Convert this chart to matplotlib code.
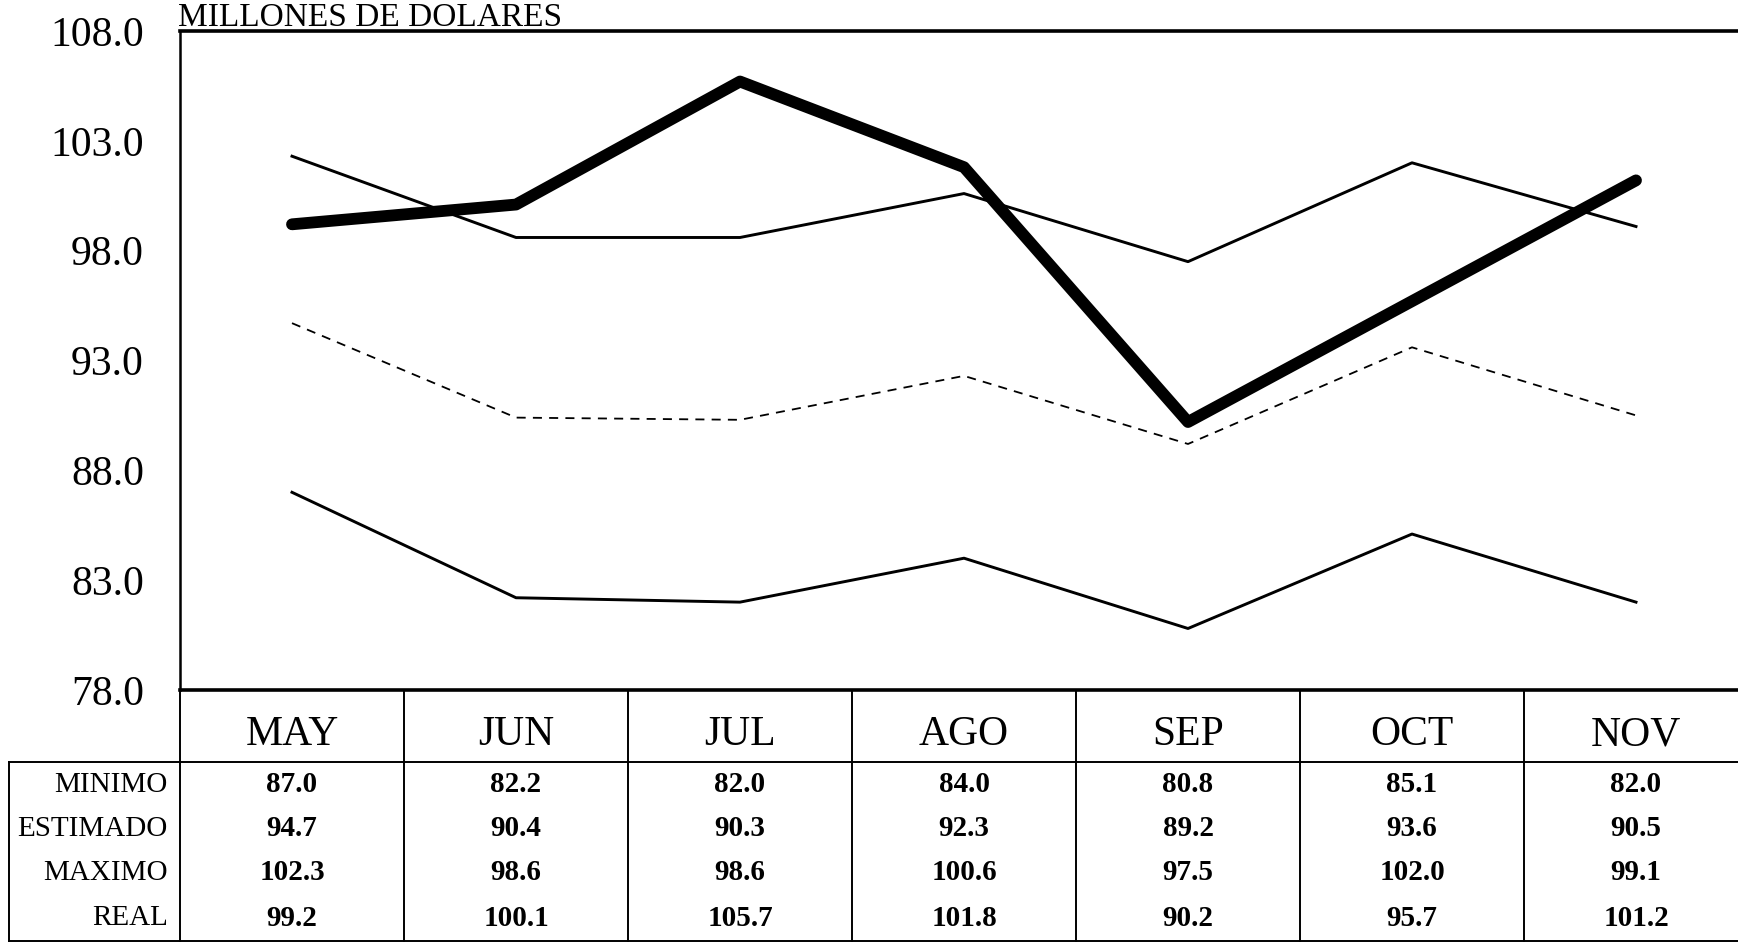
import matplotlib.pyplot as plt
from matplotlib import transforms
from matplotlib.lines import Line2D

meses = ['MAY', 'JUN', 'JUL', 'AGO', 'SEP', 'OCT', 'NOV']
minimo = [87.0, 82.2, 82.0, 84.0, 80.8, 85.1, 82.0]
estimado = [94.7, 90.4, 90.3, 92.3, 89.2, 93.6, 90.5]
maximo = [102.3, 98.6, 98.6, 100.6, 97.5, 102.0, 99.1]
real = [99.2, 100.1, 105.7, 101.8, 90.2, 95.7, 101.2]
yticks = [78.0, 83.0, 88.0, 93.0, 98.0, 103.0, 108.0]

filas = ['MINIMO', 'ESTIMADO', 'MAXIMO', 'REAL']
valores = [minimo, estimado, maximo, real]

plt.rcParams['font.family'] = ['Liberation Serif', 'DejaVu Serif']

W, H = 1738, 944
fig = plt.figure(figsize=(W / 100, H / 100), dpi=100)
# axes box in pixel terms: left 180, right ~1748 (runs off the page), top 31, bottom 690
ax = fig.add_axes([180 / W, 1 - 690 / H, (1748 - 180) / W, (690 - 31) / H])

x = list(range(len(meses)))
ax.plot(x, minimo, color='black', lw=2.1)
ax.plot(x, estimado, color='black', lw=1.3, linestyle=(0, (5, 4)))
ax.plot(x, maximo, color='black', lw=2.1)
ax.plot(x, real, color='black', lw=8.5, solid_capstyle='round', solid_joinstyle='round')

ax.set_xlim(-0.5, 6.5)
ax.set_ylim(78, 108)
ax.set_yticks(yticks)
ax.set_yticklabels([f'{v:.1f}' for v in yticks], fontsize=30)
ax.tick_params(axis='y', length=0, pad=26)
ax.set_xticks([])
for side in ['top', 'bottom']:
    ax.spines[side].set_linewidth(2.6)
ax.spines['left'].set_linewidth(1.8)
ax.spines['right'].set_visible(False)

fig.text(178 / W, 1 - 26 / H, 'MILLONES DE DOLARES', fontsize=24, va='baseline', ha='left')

# table under the chart, columns tied to the x data scale
tr = transforms.blended_transform_factory(ax.transData, fig.transFigure)
y_head = 1 - 735 / H
y_rows = [1 - p / H for p in (785, 829, 873, 918)]
y_sep = 1 - 762 / H
y_bot = 1 - 941 / H
y_top = 1 - 690 / H

for i, m in enumerate(meses):
    fig.text(i, y_head, m, transform=tr, ha='center', va='center', fontsize=30)
    for r, serie in enumerate(valores):
        fig.text(i, y_rows[r], f'{serie[i]:.1f}', transform=tr, ha='center',
                 va='center', fontsize=21, fontweight='bold')

for r, nombre in enumerate(filas):
    fig.text(168 / W, y_rows[r], nombre, ha='right', va='center', fontsize=21)

# grid lines of the table
for b in [i - 0.5 for i in range(len(meses) + 1)]:
    fig.add_artist(Line2D([b, b], [y_bot, y_top], transform=tr, color='black', lw=1.4))
fig.add_artist(Line2D([9 / W, 1], [y_sep, y_sep], transform=fig.transFigure, color='black', lw=1.4))
fig.add_artist(Line2D([9 / W, 1], [y_bot, y_bot], transform=fig.transFigure, color='black', lw=1.4))
fig.add_artist(Line2D([9 / W, 9 / W], [y_bot, y_sep], transform=fig.transFigure, color='black', lw=1.4))

fig.savefig('out.png', dpi=100)
